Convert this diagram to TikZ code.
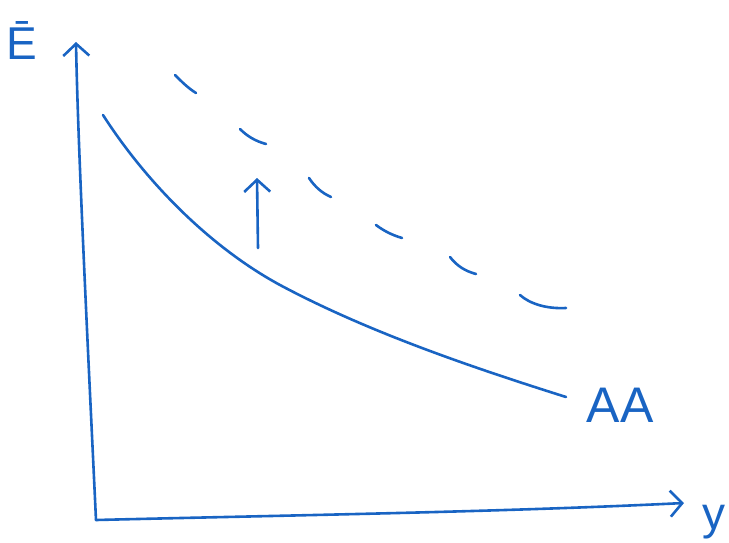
\documentclass[tikz,border=0pt]{standalone}
\usepackage{fontspec}
\setmainfont{Liberation Sans}
\usetikzlibrary{arrows.meta}
\definecolor{pen}{RGB}{25,100,195}
\begin{document}
\begin{tikzpicture}[x=1pt,y=-1pt,
  ink/.style={draw=pen,line width=2.6pt,line cap=round,line join=round},
  barb/.style={-{Straight Barb[length=12pt,width=26pt,line width=2.6pt]}},
  lbl/.style={text=pen,font=\fontsize{46}{46}\selectfont,inner sep=0pt}]
\useasboundingbox (0,0) rectangle (729,542);
% axes
\coordinate (O) at (96,520);
\coordinate (Etop) at (76,42);
\coordinate (Yend) at (684,503);
\draw[ink,barb] (O) .. controls (88,350) and (78,150) .. (Etop);
\draw[ink,barb] (O) .. controls (300,515) and (500,512) .. (Yend);
\node[lbl] (E) at (22,40) {Ē};
\node[lbl] (y) at (714,522) {y};
% AA curve
\coordinate (a0) at (103,115);
\coordinate (am) at (280,285);
\coordinate (a1) at (566,397);
\draw[ink] (a0) .. controls (146,182) and (210,247) .. (am)
  .. controls (368,332) and (471,367) .. (a1);
\node[lbl,font=\fontsize{50}{50}\selectfont] (AA) at (620,405) {AA};
% shift arrow
\coordinate (s0) at (258,248);
\coordinate (s1) at (257,178);
\draw[ink,barb] (s0) -- (s1);
% dashed shifted curve (individual dashes)
\draw[ink] (175,75) .. controls (182,82) and (188,88) .. (196,93);
\draw[ink] (240,129) .. controls (247,136) and (255,141) .. (266,144);
\draw[ink] (309,178) .. controls (315,187) and (322,193) .. (331,197);
\draw[ink] (376,225) .. controls (384,231) and (392,235) .. (402,238);
\draw[ink] (450,257) .. controls (457,266) and (465,271) .. (476,274);
\draw[ink] (520,295) .. controls (530,304) and (547,309) .. (566,308);
\end{tikzpicture}
\end{document}
